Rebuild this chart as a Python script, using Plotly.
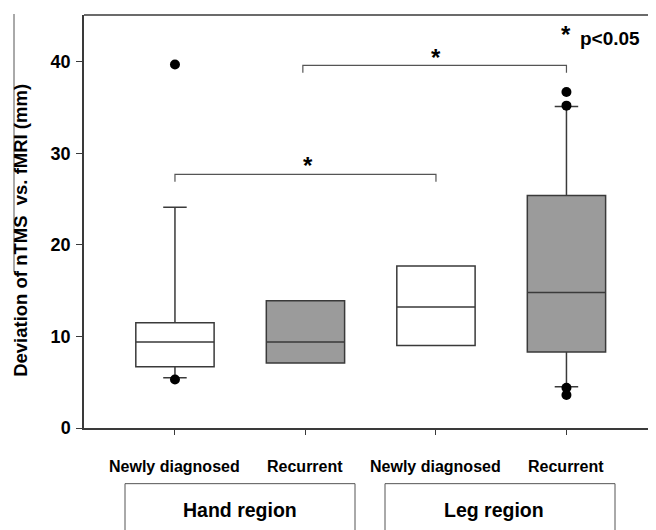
import plotly.graph_objects as go

categories = ["Newly diagnosed", "Recurrent", "Newly diagnosed", "Recurrent"]
regions = ["Hand region", "Leg region"]
q1 = [6.7, 7.1, 9.0, 8.3]
median = [9.4, 9.4, 13.2, 14.8]
q3 = [11.5, 13.9, 17.7, 25.4]
lower = [5.5, 7.1, 9.0, 4.5]
upper = [24.1, 13.9, 17.7, 35.1]
outlier_x = [0, 0, 3, 3, 3, 3]
outlier_y = [39.7, 5.3, 36.7, 35.2, 4.4, 3.6]
fills = ["white", "#9b9b9b", "white", "#9b9b9b"]
yticks = [0, 10, 20, 30, 40]

OFF = 8  # page body margin
W, H = 656, 530
L = 84 - OFF
T = 15 - OFF
B = 428.3 - OFF
PW = W - L
PH = B - T

def px(xs):
    return (xs - OFF - L) / PW

def py(ys):
    return (B - (ys - OFF)) / PH

font = "Liberation Sans, Arial, sans-serif"
line_col = "#3a3a3a"

fig = go.Figure()
for i in range(4):
    fig.add_trace(go.Box(
        x=[i], q1=[q1[i]], median=[median[i]], q3=[q3[i]],
        lowerfence=[lower[i]], upperfence=[upper[i]],
        width=0.6, whiskerwidth=0.3, fillcolor=fills[i],
        line=dict(color=line_col, width=1.5), boxpoints=False,
        showlegend=False, hoverinfo="skip"))

fig.add_trace(go.Scatter(x=outlier_x, y=outlier_y, mode="markers",
                         marker=dict(color="black", size=10), showlegend=False,
                         hoverinfo="skip"))

# significance brackets
fig.add_trace(go.Scatter(x=[0, 0, 2, 2], y=[26.9, 27.7, 27.7, 26.9], mode="lines",
                         line=dict(color="#555", width=1.2), showlegend=False, hoverinfo="skip"))
fig.add_trace(go.Scatter(x=[0.98, 0.98, 3, 3], y=[38.8, 39.6, 39.6, 38.8], mode="lines",
                         line=dict(color="#555", width=1.2), showlegend=False, hoverinfo="skip"))

ann = []
def star(x, ypx):
    return dict(x=x, y=py(ypx), xref="x", yref="paper", text="<b>*</b>", showarrow=False,
                xanchor="center", yanchor="middle",
                font=dict(family=font, size=24, color="black"))
ann.append(star(1.02, 166))
ann.append(star(2.0, 58))
ann.append(star(3.0, 35))
ann.append(dict(x=px(578), y=py(39), xref="paper", yref="paper", text="<b>p<0.05</b>",
                showarrow=False, xanchor="left", yanchor="middle",
                font=dict(family=font, size=19, color="black")))
for i, c in enumerate(categories):
    ann.append(dict(x=i, y=py(467), xref="x", yref="paper", text="<b>" + c + "</b>",
                    showarrow=False, xanchor="center", yanchor="middle",
                    font=dict(family=font, size=16, color="black")))
ann.append(dict(x=px(240), y=py(510), xref="paper", yref="paper", text="<b>" + regions[0] + "</b>",
                showarrow=False, xanchor="center", yanchor="middle",
                font=dict(family=font, size=19.5, color="black")))
ann.append(dict(x=px(494), y=py(510), xref="paper", yref="paper", text="<b>" + regions[1] + "</b>",
                showarrow=False, xanchor="center", yanchor="middle",
                font=dict(family=font, size=19.5, color="black")))
ann.append(dict(x=px(21), y=py(231), xref="paper", yref="paper",
                text="<b>Deviation of nTMS  vs. fMRI (mm)</b>", textangle=-90,
                showarrow=False, xanchor="center", yanchor="middle",
                font=dict(family=font, size=18.5, color="black")))

shapes = [
    dict(type="line", xref="paper", yref="paper", x0=0, x1=1.02, y0=1, y1=1,
         line=dict(color=line_col, width=1.5)),
    dict(type="rect", xref="paper", yref="paper", x0=px(125), x1=px(355), y0=py(484), y1=py(545),
         line=dict(color="#555", width=1)),
    dict(type="rect", xref="paper", yref="paper", x0=px(385), x1=px(615), y0=py(484), y1=py(545),
         line=dict(color="#555", width=1)),
    dict(type="line", xref="paper", yref="paper", x0=px(14), x1=px(14), y0=py(14), y1=py(272),
         line=dict(color="#555", width=1)),
    dict(type="line", xref="paper", yref="paper", x0=px(14), x1=px(18), y0=py(272), y1=py(272),
         line=dict(color="#555", width=1)),
]

x_left = -0.697
x_scale = 130.5  # px per category
fig.update_layout(
    width=W, height=H, margin=dict(l=L, r=0, t=T, b=H - B),
    plot_bgcolor="white", paper_bgcolor="white",
    annotations=ann, shapes=shapes,
    xaxis=dict(range=[x_left, x_left + PW / x_scale], tickvals=[0, 1, 2, 3], showticklabels=False,
               ticks="outside", ticklen=5, tickcolor=line_col, showline=True, automargin=False,
               linecolor=line_col, linewidth=1.5, showgrid=False, zeroline=False, fixedrange=True),
    yaxis=dict(range=[0, 45.1], tickvals=yticks, ticks="outside", ticklen=6, tickcolor=line_col,
               showline=True, linecolor=line_col, linewidth=1.5, showgrid=False, zeroline=False,
               automargin=False, ticklabelstandoff=2,
               tickfont=dict(family=font, size=18, color="black", weight="bold")),
)

fig.write_html("out.html")
